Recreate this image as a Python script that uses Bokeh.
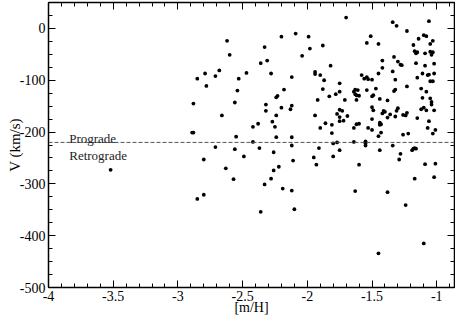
import numpy as np
from bokeh.plotting import figure
from bokeh.models import Range1d, LinearAxis, FixedTicker, Span, Label, CustomJSTickFormatter
from bokeh.embed import file_html
from bokeh.resources import INLINE

# ---- data: metallicity [m/H] and rotational velocity V (km/s) ----
feh = [-3.52,
       -2.62, -2.60, -2.36, -2.68, -2.79, -2.47, -2.85, -2.71, -2.53, -2.78, -2.54, -2.88, -2.56,
       -2.66, -2.38, -2.42, -2.89, -2.88, -2.55, -2.42, -2.71, -2.56, -2.37, -2.49, -2.80, -2.63,
       -2.57, -2.80, -2.85,
       -2.36, -2.10,
       -1.70, -2.09, -2.20, -1.99, -2.33, -1.88, -1.98, -2.04, -2.31, -1.82, -2.28, -1.94, -1.94,
       -1.90, -2.12, -1.87, -1.58, -1.75, -2.18, -1.88, -1.75, -1.78, -1.63, -1.61, -1.64, -1.63,
       -1.62, -1.60, -2.23, -2.24, -1.83, -1.92, -1.71, -1.62, -2.32, -2.20, -2.12, -1.75,
       -1.56, -1.54, -1.53, -1.50, -1.34, -1.31, -1.23, -1.06, -1.51, -1.54, -1.45, -1.14, -1.10,
       -1.08, -1.05, -1.03, -1.18, -1.17, -1.15, -1.16, -1.09, -1.05, -1.03, -1.04, -1.33, -1.30,
       -1.28, -1.27, -1.42, -1.42, -1.16, -1.02, -1.09, -1.34, -1.45, -1.11, -1.07, -1.06, -1.02,
       -1.15, -1.32, -1.05, -1.03, -1.23, -1.47, -1.54, -1.32, -1.33, -1.12, -1.08, -1.49, -1.50,
       -1.44, -1.38, -1.11, -1.05, -1.30, -1.50, -1.10, -1.04,
       -2.13, -2.32, -2.24, -1.94, -1.73, -1.77, -1.69, -1.75, -1.75, -1.72, -2.27, -2.25, -1.86,
       -1.81, -1.62, -1.60, -1.64, -1.90, -1.81, -2.24, -2.12, -2.12, -1.80, -1.77, -1.64, -2.26,
       -1.91, -1.75, -1.80, -1.95, -2.11, -1.93, -2.22, -1.60, -2.26, -2.28, -2.33, -2.19, -2.12,
       -1.63,
       -1.49, -1.41, -1.40, -1.42, -1.36, -1.38, -1.31, -1.32, -1.26, -1.24, -1.23, -1.12, -1.08,
       -1.02, -1.04, -1.15, -1.06, -1.50, -1.53, -1.50, -1.44, -1.43, -1.44, -1.43, -1.45, -1.26,
       -1.22, -1.07, -1.01, -1.03, -1.55, -1.55, -1.55, -1.34, -1.44, -1.19, -1.18, -1.17, -1.16,
       -1.28, -1.29, -1.09, -1.01, -1.17, -1.02, -1.38, -1.24,
       -1.45, -1.10]

vel = [-273,
       -24, -51, -67, -81, -87, -86, -97, -92, -97, -111, -120, -145, -143,
       -168, -184, -190, -201, -201, -209, -219, -229, -233, -231, -247, -253, -270,
       -291, -321, -329,
       -354, -349,
       21, -10, -16, -16, -36, -33, -39, -53, -62, -72, -87, -84, -88,
       -90, -94, -100, -90, -106, -118, -117, -122, -127, -118, -119, -122, -127,
       -129, -130, -130, -133, -131, -138, -138, -138, -147, -153, -149, -157,
       -97, -94, -98, -99, 12, 5, -5, 14, -15, -28, -30, -20, -13,
       -15, -30, -24, -32, -44, -46, -48, -48, -45, -46, -51, -55, -64,
       -70, -71, -62, -76, -67, -68, -72, -83, -87, -87, -90, -89, -87,
       -95, -99, -102, -102, -112, -116, -119, -118, -121, -116, -122, -129, -131,
       -136, -139, -134, -135, -154, -152, -153, -147,
       -156, -159, -168, -168, -159, -165, -169, -171, -179, -178, -180, -190, -183,
       -186, -185, -184, -192, -192, -202, -210, -210, -226, -222, -220, -219, -239,
       -231, -235, -247, -249, -255, -263, -267, -263, -274, -290, -301, -309, -313,
       -314,
       -158, -159, -161, -164, -166, -172, -159, -170, -167, -168, -163, -156, -158,
       -158, -142, -173, -179, -175, -192, -196, -182, -185, -186, -201, -208, -205,
       -203, -192, -196, -203, -218, -222, -226, -226, -235, -235, -232, -231, -232,
       -242, -253, -262, -261, -290, -287, -316, -341,
       -434, -415]

x_ticks = [-4, -3.5, -3, -2.5, -2, -1.5, -1]
x_tick_labels = ["-4", "-3.5", "-3", "-2.5", "-2", "-1.5", "-1"]
y_ticks = [0, -100, -200, -300, -400, -500]
y_tick_labels = ["0", "-100", "-200", "-300", "-400", "-500"]
divide_value = -220
x_label = "[m/H]"
y_label = "V (km/s)"
upper_text = "Prograde"
lower_text = "Retrograde"

FONT = "Liberation Serif"

p = figure(width=455, height=317,
           x_range=Range1d(-4, -0.8625), y_range=Range1d(-500, 50),
           output_backend="svg", toolbar_location=None,
           x_axis_location=None, y_axis_location=None,
           min_border_left=48, min_border_right=1, min_border_top=2, min_border_bottom=0)
p.xgrid.visible = False
p.ygrid.visible = False
p.outline_line_color = "black"
p.outline_line_width = 1
p.background_fill_color = "white"
p.border_fill_color = "white"

x_minor = [round(v, 2) for v in np.arange(-4.0, -0.79, 0.1)]
y_minor = [float(v) for v in np.arange(-500, 51, 25)]

bottom_axis = LinearAxis(axis_label=x_label)
left_axis = LinearAxis(axis_label=y_label)
top_axis = LinearAxis()
right_axis = LinearAxis()
p.add_layout(bottom_axis, "below")
p.add_layout(left_axis, "left")
p.add_layout(top_axis, "above")
p.add_layout(right_axis, "right")

LABEL_JS = "const i = tvals.indexOf(tick); return i >= 0 ? tlabs[i] : '';"


def style_axis(ax, ticks, labels, minor, show_labels):
    ax.ticker = FixedTicker(ticks=ticks, minor_ticks=minor)
    ax.axis_line_color = "black"
    ax.axis_line_width = 1.5
    ax.major_tick_in = 7
    ax.major_tick_out = 0
    ax.minor_tick_in = 4
    ax.minor_tick_out = 0
    ax.major_tick_line_color = "black"
    ax.minor_tick_line_color = "black"
    ax.major_tick_line_width = 1
    ax.minor_tick_line_width = 1
    if show_labels:
        ax.formatter = CustomJSTickFormatter(args=dict(tvals=ticks, tlabs=labels), code=LABEL_JS)
        ax.major_label_text_font = FONT
        ax.major_label_text_font_size = "14px"
        ax.major_label_text_font_style = "normal"
        ax.major_label_text_color = "black"
        ax.major_label_standoff = 3
        ax.axis_label_text_font = FONT
        ax.axis_label_text_font_style = "normal"
        ax.axis_label_text_color = "black"
    else:
        ax.formatter = CustomJSTickFormatter(code="return '';")
        ax.major_label_text_color = None
        ax.major_label_standoff = 0


style_axis(bottom_axis, x_ticks, x_tick_labels, x_minor, True)
style_axis(left_axis, y_ticks, y_tick_labels, y_minor, True)
style_axis(top_axis, x_ticks, x_tick_labels, x_minor, False)
style_axis(right_axis, y_ticks, y_tick_labels, y_minor, False)

bottom_axis.axis_label_text_font_size = "14px"
bottom_axis.axis_label_standoff = -4
left_axis.axis_label_text_font_size = "15px"
left_axis.axis_label_standoff = -6

p.add_layout(Span(location=divide_value, dimension="width", line_color="#555555",
                  line_dash="4 2", line_width=1))

p.scatter(feh, vel, size=3.8, color="black", line_width=0)

p.add_layout(Label(x=-3.84, y=-213, text=upper_text, text_font=FONT,
                   text_font_size="13px", text_color="#222222", text_baseline="alphabetic"))
p.add_layout(Label(x=-3.84, y=-246, text=lower_text, text_font=FONT,
                   text_font_size="13px", text_color="#222222", text_baseline="alphabetic"))

open("out.html", "w").write(file_html(p, INLINE))
